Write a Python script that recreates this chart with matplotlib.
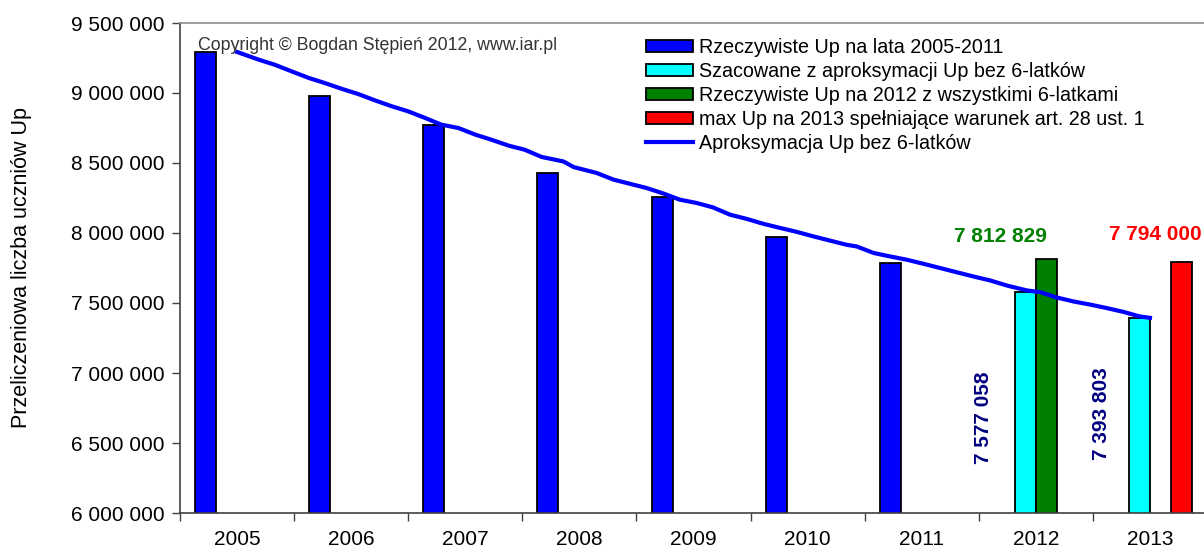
import matplotlib
matplotlib.use('Agg')
import matplotlib.pyplot as plt
from matplotlib.patches import Patch
from matplotlib.lines import Line2D
from matplotlib.ticker import FuncFormatter, FixedLocator

plt.rcParams['font.family'] = ['Liberation Sans', 'DejaVu Sans']

years = ['2005', '2006', '2007', '2008', '2009', '2010', '2011', '2012', '2013']

# bar series (index into years)
actual_idx = [0, 1, 2, 3, 4, 5, 6]
actual_vals = [9295000, 8981000, 8771000, 8429000, 8257000, 7971000, 7786000]
estimated_idx = [7, 8]
estimated_vals = [7577058, 7393803]
full2012_idx = [7]
full2012_vals = [7812829]
max2013_idx = [8]
max2013_vals = [7794000]

# approximation line, x in years since 2005
line_x = [0.00, 0.19, 0.33, 0.48, 0.63, 0.77, 0.92, 1.06, 1.21, 1.36, 1.50, 1.65,
          1.79, 1.94, 2.09, 2.23, 2.38, 2.52, 2.67, 2.86, 2.95, 3.15, 3.30, 3.44,
          3.59, 3.74, 3.88, 4.03, 4.17, 4.32, 4.47, 4.61, 4.76, 4.91, 5.05, 5.20,
          5.34, 5.43, 5.58, 5.72, 5.87, 6.02, 6.16, 6.31, 6.45, 6.60, 6.75, 6.92,
          7.04, 7.18, 7.33, 7.48, 7.62, 7.77, 7.91, 8.00]
line_y = [9293000, 9238000, 9202000, 9154000, 9107000, 9071000, 9029000, 8993000,
          8947000, 8904000, 8869000, 8821000, 8774000, 8750000, 8702000, 8666000,
          8624000, 8595000, 8543000, 8511000, 8471000, 8429000, 8381000, 8352000,
          8321000, 8281000, 8238000, 8214000, 8183000, 8131000, 8100000, 8066000,
          8036000, 8007000, 7976000, 7945000, 7916000, 7904000, 7857000, 7833000,
          7809000, 7779000, 7750000, 7719000, 7690000, 7661000, 7624000, 7590000,
          7577058, 7540000, 7511000, 7488000, 7464000, 7436000, 7404000, 7393803]

labels = ['Rzeczywiste Up na lata 2005-2011',
          'Szacowane z aproksymacji Up bez 6-latków',
          'Rzeczywiste Up na 2012 z wszystkimi 6-latkami',
          'max Up na 2013 spełniające warunek art. 28 ust. 1',
          'Aproksymacja Up bez 6-latków']
colors = ['#0000ff', '#00ffff', '#008000', '#ff0000']

W, H = 1204, 553
fig = plt.figure(figsize=(W / 100, H / 100), dpi=100)
ax = fig.add_axes([180 / W, 1 - 513 / H, 1027 / W, 490 / H])

width = 0.184
offsets = [-0.276, -0.092, 0.092, 0.276]
series = [(actual_idx, actual_vals), (estimated_idx, estimated_vals),
          (full2012_idx, full2012_vals), (max2013_idx, max2013_vals)]
for k, (idx, vals) in enumerate(series):
    ax.bar([i + offsets[k] for i in idx], vals, width=width, color=colors[k],
           edgecolor='black', linewidth=1.3, zorder=2)

ax.plot(line_x, line_y, color='#0000ff', linewidth=3, zorder=3)

# value labels
ax.text(7 + offsets[2] - 0.40, full2012_vals[0] + 163000, '7 812 829', color='#008000',
        fontsize=15, fontweight='bold', ha='center', va='center')
ax.text(8 + offsets[3] - 0.23, max2013_vals[0] + 194000, '7 794 000', color='#ff0000',
        fontsize=15, fontweight='bold', ha='center', va='center', clip_on=False)
ax.text(7 + offsets[1] - 0.37, 6680000, '7 577 058', color='#000080', rotation=90,
        fontsize=15, fontweight='bold', ha='center', va='center')
ax.text(8 + offsets[1] - 0.33, 6713000, '7 393 803', color='#000080', rotation=90,
        fontsize=15, fontweight='bold', ha='center', va='center')

ax.set_xlim(-0.5, 8.5)
ax.set_ylim(6000000, 9500000)
ax.set_yticks(range(6000000, 9500001, 500000))
ax.yaxis.set_major_formatter(FuncFormatter(lambda v, p: f'{int(v):,}'.replace(',', ' ')))
ax.xaxis.set_major_locator(FixedLocator([i - 0.5 for i in range(10)]))
ax.xaxis.set_major_formatter(FuncFormatter(lambda v, p: ''))
ax.set_xticks(range(len(years)), minor=True)
ax.set_xticklabels(years, minor=True)
ax.tick_params(axis='x', which='minor', length=0, pad=12, labelsize=15)
ax.tick_params(axis='x', which='major', length=6, width=1, color='#404040', direction='out')
ax.tick_params(axis='y', length=6, width=1, color='#404040', labelsize=15, pad=5)

for side in ['left', 'bottom']:
    ax.spines[side].set_color('#404040')
    ax.spines[side].set_linewidth(1.2)
ax.spines['top'].set_color('#8c8c8c')
ax.spines['top'].set_linewidth(1.2)
ax.spines['right'].set_visible(False)

ax.set_ylabel('Przeliczeniowa liczba uczniów Up', fontsize=15.5)
ax.yaxis.set_label_coords(-148 / 1027, 0.5)

ax.text(198 / W, 1 - 45 / H, 'Copyright © Bogdan Stępień 2012, www.iar.pl',
        transform=fig.transFigure, fontsize=12.8, color='#333333', va='center', ha='left')

handles = [Patch(facecolor=c, edgecolor='black', linewidth=1.3) for c in colors]
handles.append(Line2D([0], [0], color='#0000ff', linewidth=3))
fig.legend(handles, labels, loc='upper left', bbox_to_anchor=(646 / W, 1 - 38 / H),
           frameon=False, fontsize=14.2, handlelength=2.4, handleheight=0.6,
           handletextpad=0.3, labelspacing=0.25, borderpad=0, borderaxespad=0)

fig.savefig('out.png', dpi=100)
